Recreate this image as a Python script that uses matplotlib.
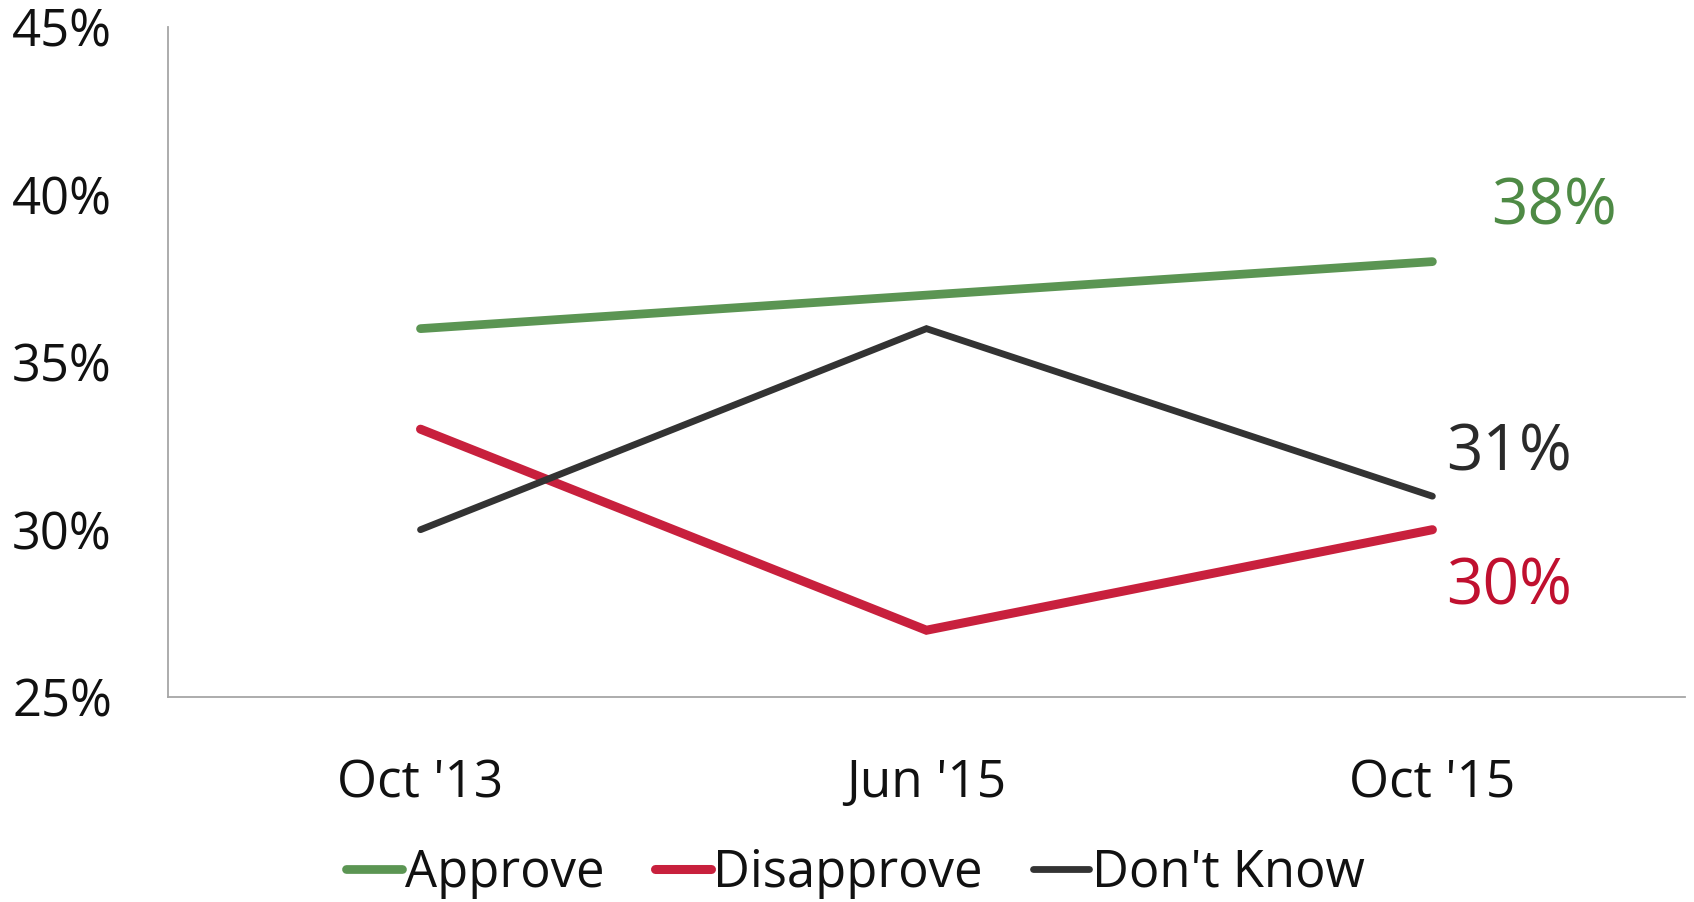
import matplotlib
matplotlib.use("Agg")
import matplotlib.pyplot as plt

categories = ["Oct '13", "Jun '15", "Oct '15"]
approve = [36, 37, 38]
disapprove = [33, 27, 30]
dont_know = [30, 36, 31]
yticks = [25, 30, 35, 40, 45]

plt.rcParams['font.family'] = ['Open Sans', 'DejaVu Sans']

fig = plt.figure(figsize=(16.94, 9.02), dpi=100)
ax = fig.add_axes([0.0989, 0.227, 0.896, 0.743])

x = list(range(len(categories)))
c_app, c_dis, c_dk = '#5B9553', '#C8203D', '#333333'
l1, = ax.plot(x, approve, color=c_app, lw=6.3, solid_capstyle='round', solid_joinstyle='miter', label='Approve')
l2, = ax.plot(x, disapprove, color=c_dis, lw=6.5, solid_capstyle='round', solid_joinstyle='miter', label='Disapprove')
l3, = ax.plot(x, dont_know, color=c_dk, lw=4.9, solid_capstyle='round', solid_joinstyle='miter', label="Don't Know")

ax.set_xlim(-0.5, len(categories) - 0.5)
ax.set_ylim(25, 45)
ax.set_yticks(yticks)
ax.set_yticklabels([f"{v}%" for v in yticks])
ax.set_xticks(x)
ax.set_xticklabels(categories)
ax.tick_params(axis='y', length=0, pad=40, labelsize=36.5, labelcolor='#111111')
ax.tick_params(axis='x', length=0, pad=44, labelsize=37, labelcolor='#111111')

for s in ['top', 'right']:
    ax.spines[s].set_visible(False)
for s in ['left', 'bottom']:
    ax.spines[s].set_color('#A6A6A6')
    ax.spines[s].set_linewidth(1.3)

last = len(categories) - 1
ax.annotate(f"{approve[-1]}%", xy=(last, approve[-1]), xytext=(59, 54), textcoords='offset pixels',
            ha='left', va='center', fontsize=46, color='#4E8A45')
ax.annotate(f"{dont_know[-1]}%", xy=(last, dont_know[-1]), xytext=(14, 43), textcoords='offset pixels',
            ha='left', va='center', fontsize=46, color='#2A2A2A')
ax.annotate(f"{disapprove[-1]}%", xy=(last, disapprove[-1]), xytext=(14, -58), textcoords='offset pixels',
            ha='left', va='center', fontsize=46, color='#C0102F')

leg = fig.legend(handles=[l1, l2, l3], loc='center', bbox_to_anchor=(0.505, 0.032), ncol=3, frameon=False,
                 fontsize=36.5, handlelength=1.1, handletextpad=0.05, columnspacing=1.0,
                 labelcolor='#111111')

fig.savefig("out.png", dpi=100)
